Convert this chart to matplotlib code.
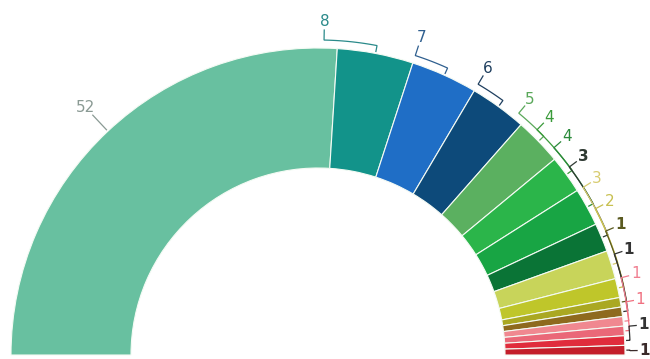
import numpy as np
import matplotlib
matplotlib.use("Agg")
import matplotlib.pyplot as plt
from matplotlib.patches import Wedge

# ---- data ----
labels = ["52", "8", "7", "6", "5", "4", "4", "3", "3", "2", "1", "1", "1", "1", "1", "1"]
values = [52, 8, 7, 6, 5, 4, 4, 3, 3, 2, 1, 1, 1, 1, 1, 1]
colors = ["#68c0a0", "#12938a", "#1f6ec6", "#0d4a7a", "#5bb060", "#2bb54a",
          "#18a544", "#0a7436", "#c8d45a", "#bfc62a", "#aaa822", "#8e6a1e",
          "#f08890", "#ea6878", "#e02c3c", "#c41e2a"]
label_colors = ["#8a9a94", "#2a8a8a", "#2f5f8f", "#1f3f5f", "#5aa85a", "#3a9a3a",
                "#2a8a3a", "#2f3a33", "#d8cc70", "#c8c050", "#5a5a20", "#333333",
                "#f07f90", "#f07080", "#333333", "#3a2a2a"]

# ---- layout ----
W, H = 650, 359
fig = plt.figure(figsize=(W / 100, H / 100), dpi=100)
ax = fig.add_axes([0, 0, 1, 1])
ax.set_xlim(0, W)
ax.set_ylim(0, H)
ax.set_aspect("equal")
ax.axis("off")

cx, cy = 318, 4
R = 307
ring = 120
total = float(sum(values))

starts, ends = [], []
a = 180.0
for v in values:
    span = v / total * 180.0
    starts.append(a)
    ends.append(a - span)
    a -= span

for s, e, c in zip(starts, ends, colors):
    ax.add_patch(Wedge((cx, cy), R, e, s, width=ring, facecolor=c,
                       edgecolor="#f4fbf4", linewidth=0.8))

# label angles: start of slice, spread to avoid overlaps
n = len(values)
gap = 4.5
lab_ang = [0.0] * n
lab_ang[-1] = max(starts[-1] - 1.5, 0.8)
for i in range(n - 2, 0, -1):
    lab_ang[i] = max(starts[i], lab_ang[i + 1] + gap)
lab_ang[1] = starts[1] + 2.5

def pt(r, ang):
    t = np.deg2rad(ang)
    return cx + r * np.cos(t), cy + r * np.sin(t)

# big slice label
mid0 = (starts[0] + ends[0]) / 2
x1, y1 = pt(R + 2, mid0)
x2, y2 = pt(R + 22, mid0)
ax.plot([x1, x2], [y1, y2], color=label_colors[0], lw=0.9)
lx, ly = pt(R + 32, mid0)
ax.text(lx, ly, labels[0], color=label_colors[0], fontsize=11,
        ha="center", va="center", family="DejaVu Sans")

dark = ("#333333", "#2f3a33", "#3a2a2a", "#5a5a20")
for i in range(1, n):
    mid = (starts[i] + ends[i]) / 2
    la = lab_ang[i]
    col = label_colors[i]
    s = np.sin(np.deg2rad(la))
    rb = R + 5 + 3 * s
    rl = R + 19 + 8 * s
    rs = R + 12 + 6 * s
    xa, ya = pt(rs, la)
    xb, yb = pt(rb, la)
    angs = np.linspace(la, mid, 30)
    xs = cx + rb * np.cos(np.deg2rad(angs))
    ys = cy + rb * np.sin(np.deg2rad(angs))
    xt, yt = pt(R + 2, mid)
    ax.plot([xa, xb] + list(xs) + [xt], [ya, yb] + list(ys) + [yt],
            color=col, lw=0.9, solid_joinstyle="miter")
    lx, ly = pt(rl, la)
    ax.text(lx, ly, labels[i], color=col, fontsize=11,
            fontweight="bold" if col in dark else "normal",
            ha="center", va="center", family="DejaVu Sans")

fig.savefig("out.png", dpi=100, facecolor="white")
